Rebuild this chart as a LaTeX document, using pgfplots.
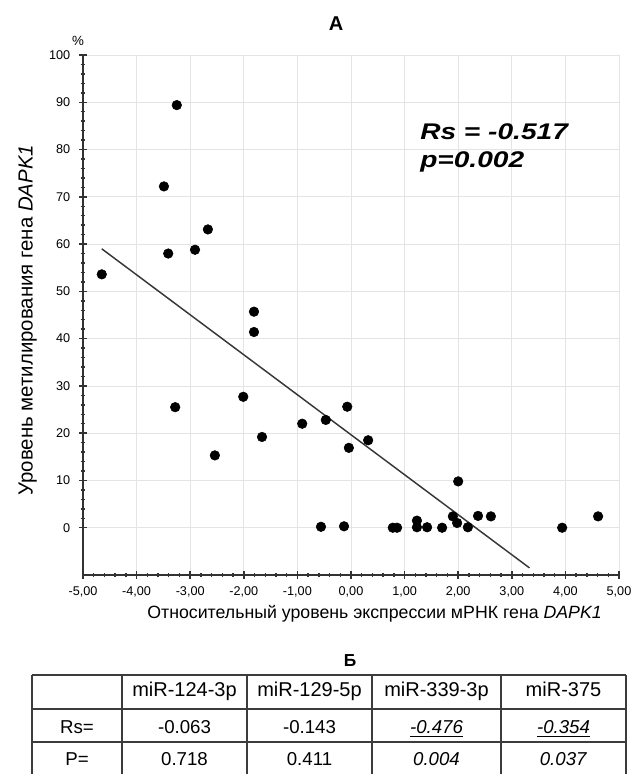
\documentclass[border=0pt]{standalone}
\usepackage{fontspec}
\setmainfont{Liberation Sans}
\usepackage{pgfplots}
\pgfplotsset{compat=1.18}
\usepackage{graphicx}

\definecolor{gridgray}{RGB}{228,228,228}
\definecolor{axisgray}{RGB}{50,50,50}
\definecolor{fitgray}{RGB}{55,55,55}
\definecolor{rulegray}{RGB}{60,60,60}

\begin{document}
\begin{tikzpicture}
\useasboundingbox (0,0) rectangle (476.25pt,580.5pt);

% panel A: methylation vs. DAPK1 expression
\begin{axis}[
  at={(62.25pt,149.25pt)}, anchor=south west,
  scale only axis, width=402pt, height=390pt,
  xmin=-5, xmax=5, ymin=-10, ymax=100,
  xtick={-5,-4,...,5}, ytick={0,10,...,100},
  minor x tick num=4, minor y tick num=4,
  axis x line*=bottom, axis y line*=left,
  axis line style={axisgray, line width=1.6pt},
  grid=major, major grid style={gridgray, line width=0.6pt},
  tick align=center,
  major tick length=6pt, minor tick length=3.5pt,
  every tick/.style={axisgray, line width=1.1pt},
  x tick label style={font=\fontsize{9.5}{10}\selectfont, yshift=-2pt,
    /pgf/number format/.cd, fixed, fixed zerofill, precision=2, use comma,
    assume math mode=true},
  y tick label style={font=\fontsize{9.5}{10}\selectfont, xshift=-3pt,
    /pgf/number format/assume math mode=true},
  xlabel={Относительный уровень экспрессии мРНК гена \textit{DAPK1}},
  xlabel style={at={(axis description cs:0.544,-0.075)}, anchor=center,
    font=\fontsize{13.3}{15}\selectfont},
  ylabel={Уровень метилирования гена \textit{DAPK1}},
  ylabel style={at={(axis description cs:-0.103,0.49)}, anchor=center,
    font=\fontsize{15.3}{17}\selectfont},
  clip=false,
]
\addplot[only marks, mark=*, mark size=3.6pt, black] coordinates {
  (-4.65,53.6) (-3.25,89.4) (-3.49,72.2) (-3.41,58.0) (-2.91,58.8)
  (-2.67,63.1) (-1.81,45.7) (-1.81,41.4) (-3.28,25.5) (-2.54,15.3)
  (-2.01,27.7) (-1.66,19.2) (-0.91,22.0) (-0.47,22.8) (-0.07,25.6)
  (-0.04,16.9) (0.32,18.5) (-0.56,0.2) (-0.13,0.3) (0.78,0.0)
  (0.86,0.0) (1.23,1.5) (1.23,0.1) (1.42,0.1) (1.70,0.0)
  (2.00,9.8) (1.90,2.4) (1.98,1.0) (2.18,0.1) (2.37,2.5)
  (2.61,2.4) (3.94,0.0) (4.61,2.4)
};
\addplot[fitgray, line width=1.1pt] coordinates {(-4.65,59.0) (3.33,-8.5)};
\end{axis}

% texts and table in pixel units, origin at the top left corner
\begin{scope}[x=0.75pt, y=-0.75pt, shift={(0,580.5pt)}]
\node[font=\fontsize{10}{10}\selectfont] at (78,41) {\%};
\node[font=\bfseries\fontsize{15}{15}\selectfont] at (336,24) {А};
\node[anchor=base west, inner sep=0pt, font=\bfseries\itshape\fontsize{17}{18}\selectfont]
  at (420,140) {\scalebox{1.24}[1]{Rs = -0.517}};
\node[anchor=base west, inner sep=0pt, font=\bfseries\itshape\fontsize{17}{18}\selectfont]
  at (420,168) {\scalebox{1.24}[1]{p=0.002}};

% panel B: correlation table
\node[font=\bfseries\fontsize{13}{13}\selectfont] at (350,661) {Б};
\begin{scope}[rulegray]
  \draw[line width=1.3pt] (32,675) -- (626,675);
  \draw[line width=1.7pt] (32,709) -- (626,709);
  \draw[line width=1.7pt] (32,742) -- (626,742);
  \foreach \xx in {32,122,247,372,501,626}
    \draw[line width=1.3pt] (\xx,675) -- (\xx,790);
\end{scope}
\begin{scope}[every node/.style={anchor=base, inner sep=0pt}]
  \begin{scope}[every node/.append style={font=\fontsize{15}{15}\selectfont}]
    \node at (184.5,697) {miR-124-3p};
    \node at (309.5,697) {miR-129-5p};
    \node at (436.5,697) {miR-339-3p};
    \node at (563.5,697) {miR-375};
  \end{scope}
  \begin{scope}[every node/.append style={font=\fontsize{14}{14}\selectfont}]
    \node at (77,734) {Rs=};
    \node at (184.5,734) {-0.063};
    \node at (309.5,734) {-0.143};
    \node at (436.5,734) {\underline{\textit{-0.476}}};
    \node at (563.5,734) {\underline{\textit{-0.354}}};
    \node at (77,766) {P=};
    \node at (184.5,766) {0.718};
    \node at (309.5,766) {0.411};
    \node at (436.5,766) {\textit{0.004}};
    \node at (563.5,766) {\textit{0.037}};
  \end{scope}
\end{scope}
\end{scope}
\end{tikzpicture}
\end{document}
